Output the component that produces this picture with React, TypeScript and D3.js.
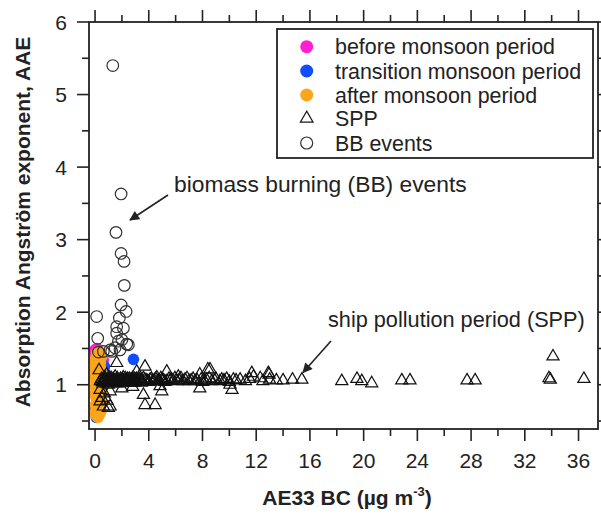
import React from "react";
import * as d3 from "d3";

const W = 601;
const H = 517;
const M = { left: 89, top: 22, right: 598, bottom: 429 };

const xDomain = [-0.45, 37.45];
const yDomain = [0.39, 6];
const xMajorTicks = [0, 4, 8, 12, 16, 20, 24, 28, 32, 36];
const xMinorTicks = [2, 6, 10, 14, 18, 22, 26, 30, 34];
const yMajorTicks = [1, 2, 3, 4, 5, 6];
const yMinorTicks = [0.5, 1.5, 2.5, 3.5, 4.5, 5.5];

const legendLabels = [
  "before monsoon period",
  "transition monsoon period",
  "after monsoon period",
  "SPP",
  "BB events",
];

const beforeMonsoon: [number, number][] = [
  [0.0, 1.48], [0.15, 1.5], [0.62, 1.34], [0.3, 1.42], [0.1, 1.38],
  [0.45, 1.3], [0.2, 1.28], [0.05, 1.32], [0.35, 1.25], [0.0, 1.4],
];

const transitionMonsoon: [number, number][] = [
  [2.86, 1.35], [0.5, 1.37], [0.7, 1.25], [0.4, 1.2], [0.1, 0.55],
  [0.2, 0.95], [0.6, 1.1], [0.35, 0.85], [0.0, 0.7], [0.8, 1.15], [0.25, 1.3],
];

const afterMonsoon: [number, number][] = [
  [0.05, 0.58], [0.15, 0.6], [0.1, 0.65], [0.2, 0.68], [0.0, 0.72], [0.25, 0.75],
  [0.12, 0.78], [0.3, 0.8], [0.05, 0.83], [0.18, 0.86], [0.08, 0.9], [0.28, 0.92],
  [0.15, 0.95], [0.02, 0.97], [0.22, 1.0], [0.1, 1.02], [0.3, 1.03], [0.05, 1.05],
  [0.18, 1.07], [0.25, 1.09], [0.0, 1.1], [0.12, 1.12], [0.35, 1.13], [0.08, 1.15],
  [0.2, 1.17], [0.03, 1.19], [0.28, 1.2], [0.15, 1.22], [0.05, 1.25], [0.22, 1.27],
  [0.1, 1.3], [0.3, 1.32], [0.0, 1.34], [0.18, 1.36], [0.08, 1.39], [0.25, 1.41],
  [0.12, 1.44], [0.4, 1.0], [0.45, 0.9], [0.38, 1.18], [0.5, 1.08], [0.02, 0.88],
  [0.14, 0.7], [0.06, 1.28], [0.33, 0.97], [0.42, 0.62], [0.36, 0.7], [0.48, 0.78],
  [0.4, 0.85], [0.52, 0.95], [0.45, 1.22], [0.4, 1.3], [0.5, 1.38], [0.3, 0.58],
  [0.22, 0.55], [0.35, 0.66], [0.55, 1.02], [0.5, 1.15], [0.02, 0.62], [0.38, 1.45],
  [0.28, 1.36], [0.44, 1.06], [0.32, 0.88], [0.25, 0.64],
];

const sppPoints: [number, number][] = [
  [0.4, 1.05], [0.5, 1.08], [0.6, 1.02], [0.7, 1.1], [0.8, 1.04], [0.9, 1.07],
  [1.0, 1.0], [1.1, 1.06], [1.2, 1.09], [1.3, 1.03], [1.4, 1.06], [1.5, 1.11],
  [1.6, 1.04], [1.7, 1.07], [1.8, 1.02], [1.9, 1.08], [2.0, 1.05], [2.1, 1.1],
  [2.2, 1.03], [2.3, 1.06], [2.4, 1.08], [2.5, 1.04], [2.6, 1.07], [2.7, 1.05],
  [2.8, 1.09], [2.9, 1.03], [3.0, 1.06], [3.1, 1.08], [3.2, 1.04], [3.3, 1.07],
  [3.5, 1.05], [3.6, 1.09], [3.8, 1.06], [4.0, 1.04], [4.2, 1.08], [4.4, 1.06],
  [4.6, 1.1], [4.8, 1.05], [5.0, 1.07], [5.2, 1.04], [5.5, 1.08], [5.8, 1.06],
  [6.1, 1.05], [6.4, 1.09], [6.7, 1.07], [7.0, 1.05], [7.3, 1.08], [7.6, 1.06],
  [8.0, 1.04], [8.3, 1.07], [8.7, 1.05], [9.0, 1.08], [9.6, 1.06], [10.0, 1.04],
  [10.8, 1.07], [11.2, 1.05], [11.5, 1.08], [12.5, 1.05], [13.0, 1.07],
  [0.45, 1.07], [0.55, 1.04], [0.65, 1.06], [0.75, 1.08], [0.85, 1.02], [0.95, 1.05],
  [1.05, 1.08], [1.15, 1.04], [1.25, 1.06], [1.35, 1.08], [1.45, 1.03], [1.55, 1.06],
  [1.65, 1.09], [1.75, 1.05], [1.85, 1.06], [1.95, 1.04], [2.05, 1.07], [2.15, 1.05],
  [2.25, 1.09], [2.35, 1.04], [2.45, 1.06], [2.55, 1.08], [2.65, 1.03], [2.75, 1.07],
  [2.85, 1.05], [2.95, 1.08], [3.05, 1.04], [3.15, 1.06], [3.25, 1.09], [3.4, 1.06],
  [3.45, 1.03], [3.7, 1.07], [3.9, 1.05], [4.1, 1.07], [4.3, 1.05], [4.5, 1.08],
  [4.7, 1.06], [4.9, 1.09], [5.1, 1.06], [5.35, 1.05], [5.65, 1.07], [5.95, 1.09],
  [6.25, 1.06], [6.55, 1.05], [6.85, 1.09], [7.15, 1.06], [7.45, 1.05], [7.9, 1.07],
  [8.15, 1.05], [8.5, 1.09], [8.9, 1.06], [9.3, 1.05], [9.8, 1.08], [10.5, 1.06],
  [1.61, 1.3], [3.72, 1.25], [3.6, 0.86], [4.47, 0.72], [3.72, 0.72], [0.87, 1.14],
  [0.37, 0.93], [0.62, 0.7], [1.12, 0.7], [5.34, 1.18], [6.2, 1.11], [7.8, 1.14],
  [8.4, 1.21], [9.43, 1.07], [10.05, 1.0], [10.3, 1.07], [11.67, 1.16], [4.84, 0.98],
  [1.6, 1.02], [1.12, 0.91], [2.36, 1.05], [4.97, 0.91], [7.8, 0.95], [10.2, 0.93],
  [8.56, 1.21], [12.9, 1.16], [12.3, 1.09], [12.96, 1.14], [14.0, 1.06], [14.7, 1.07],
  [15.4, 1.07], [13.5, 1.06], [11.8, 1.11], [18.37, 1.05], [19.5, 1.08], [19.86, 1.05],
  [20.6, 1.02], [22.84, 1.06], [23.45, 1.06], [27.7, 1.06], [28.3, 1.06], [34.1, 1.39],
  [33.8, 1.09], [33.9, 1.07], [36.4, 1.08], [0.5, 0.82], [0.9, 0.78], [2.8, 0.97],
  [3.1, 1.18], [0.3, 1.2], [2.0, 0.95], [0.7, 0.88], [0.37, 0.77], [0.99, 0.68],
];

const bbEvents: [number, number][] = [
  [1.32, 5.4], [1.94, 3.63], [1.56, 3.1], [1.94, 2.81], [2.16, 2.7], [2.18, 2.37],
  [1.94, 2.1], [2.31, 2.01], [0.12, 1.94], [1.81, 1.92], [1.61, 1.8], [2.11, 1.78],
  [1.61, 1.71], [0.2, 1.64], [1.74, 1.6], [2.36, 1.56], [1.49, 1.51], [1.24, 1.46],
  [0.62, 1.46], [1.86, 1.48], [2.48, 1.55], [1.12, 1.48], [0.25, 1.45], [2.0, 1.62],
];

const MAGENTA = "#ff1fd0";
const BLUE = "#0f4dff";
const ORANGE = "#fba51a";
const INK = "#222";
const FONT = "'Liberation Sans', Arial, Helvetica, sans-serif";

export default function App() {
  const x = d3.scaleLinear().domain(xDomain).range([M.left, M.right]);
  const y = d3.scaleLinear().domain(yDomain).range([M.bottom, M.top]);
  const tri = d3.symbol().type(d3.symbolTriangle).size(64)();
  const triLegend = d3.symbol().type(d3.symbolTriangle).size(70)();
  const R = 5.8;

  const legendRowsY = [46.7, 71, 95, 118.5, 143];

  return (
    <svg
      width={W}
      height={H}
      style={{ position: "absolute", left: 0, top: 0, background: "#fff" }}
      fontFamily={FONT}
    >
      <defs>
        <marker id="arrow" viewBox="0 0 10 10" refX="9" refY="5" markerWidth="14" markerHeight="10" markerUnits="userSpaceOnUse" orient="auto">
          <path d="M0,0 L10,5 L0,10 z" fill={INK} />
        </marker>
      </defs>
      <rect x={0} y={0} width={W} height={H} fill="#fff" />

      {/* data */}
      <g>
        {beforeMonsoon.map((d, i) => (
          <circle key={"m" + i} cx={x(d[0])} cy={y(d[1])} r={R} fill={MAGENTA} />
        ))}
        {transitionMonsoon.map((d, i) => (
          <circle key={"b" + i} cx={x(d[0])} cy={y(d[1])} r={R} fill={BLUE} />
        ))}
        {afterMonsoon.map((d, i) => (
          <circle key={"o" + i} cx={x(d[0])} cy={y(d[1])} r={R} fill={ORANGE} />
        ))}
        {sppPoints.map((d, i) => (
          <path key={"t" + i} d={tri as string} transform={`translate(${x(d[0])},${y(d[1])})`} fill="none" stroke="#111" strokeWidth={1.2} />
        ))}
        {bbEvents.map((d, i) => (
          <circle key={"c" + i} cx={x(d[0])} cy={y(d[1])} r={R} fill="none" stroke="#333" strokeWidth={1.2} />
        ))}
      </g>

      {/* frame */}
      <rect x={M.left} y={M.top} width={M.right - M.left} height={M.bottom - M.top} fill="none" stroke={INK} strokeWidth={1.8} />

      {/* bottom & top ticks */}
      {xMajorTicks.map((t) => (
        <g key={"xM" + t}>
          <line x1={x(t)} x2={x(t)} y1={M.bottom} y2={M.bottom + 12} stroke={INK} strokeWidth={1.6} />
          <line x1={x(t)} x2={x(t)} y1={M.top} y2={M.top - 12} stroke={INK} strokeWidth={1.6} />
          <text x={x(t)} y={468} textAnchor="middle" fontSize={21} fill={INK}>{t}</text>
        </g>
      ))}
      {xMinorTicks.map((t) => (
        <g key={"xm" + t}>
          <line x1={x(t)} x2={x(t)} y1={M.bottom} y2={M.bottom + 7} stroke={INK} strokeWidth={1.6} />
          <line x1={x(t)} x2={x(t)} y1={M.top} y2={M.top - 7} stroke={INK} strokeWidth={1.6} />
        </g>
      ))}
      {/* left & right ticks */}
      {yMajorTicks.map((t) => (
        <g key={"yM" + t}>
          <line x1={M.left} x2={M.left - 12} y1={y(t)} y2={y(t)} stroke={INK} strokeWidth={1.6} />
          <line x1={M.right} x2={M.right + 12} y1={y(t)} y2={y(t)} stroke={INK} strokeWidth={1.6} />
          <text x={67} y={y(t) + 7.5} textAnchor="end" fontSize={21} fill={INK}>{t}</text>
        </g>
      ))}
      {yMinorTicks.map((t) => (
        <g key={"ym" + t}>
          <line x1={M.left} x2={M.left - 7} y1={y(t)} y2={y(t)} stroke={INK} strokeWidth={1.6} />
          <line x1={M.right} x2={M.right + 7} y1={y(t)} y2={y(t)} stroke={INK} strokeWidth={1.6} />
        </g>
      ))}

      {/* axis titles */}
      <text x={347} y={505} textAnchor="middle" fontSize={21} fontWeight="bold" fill={INK}>
        AE33 BC (µg m<tspan dy={-9} fontSize={13}>-3</tspan><tspan dy={9}>)</tspan>
      </text>
      <text transform="translate(30,222) rotate(-90)" textAnchor="middle" fontSize={21} fontWeight="bold" fill={INK}>
        Absorption Angström exponent, AAE
      </text>

      {/* annotations */}
      <text x={174} y={192} fontSize={22.8} fill={INK}>biomass burning (BB) events</text>
      <line x1={168} y1={195} x2={130} y2={220} stroke={INK} strokeWidth={1.6} markerEnd="url(#arrow)" />
      <text x={328} y={327} fontSize={21.7} fill={INK}>ship pollution period (SPP)</text>
      <line x1={331} y1={341} x2={303} y2={372.5} stroke={INK} strokeWidth={1.6} markerEnd="url(#arrow)" />

      {/* legend */}
      <rect x={277} y={29} width={316} height={129} fill="#fff" stroke={INK} strokeWidth={1.8} />
      <circle cx={306.7} cy={legendRowsY[0]} r={6.5} fill={MAGENTA} />
      <circle cx={306.7} cy={legendRowsY[1]} r={6.5} fill={BLUE} />
      <circle cx={306.7} cy={legendRowsY[2]} r={6.5} fill={ORANGE} />
      <path d={triLegend as string} transform={`translate(306.7,${legendRowsY[3]})`} fill="none" stroke="#1a1a1a" strokeWidth={1.2} />
      <circle cx={306.7} cy={legendRowsY[4]} r={6} fill="none" stroke="#333" strokeWidth={1.2} />
      {legendLabels.map((l, i) => (
        <text key={l} x={335} y={legendRowsY[i] + 7.5} fontSize={21.4} fill={INK}>{l}</text>
      ))}
    </svg>
  );
}
